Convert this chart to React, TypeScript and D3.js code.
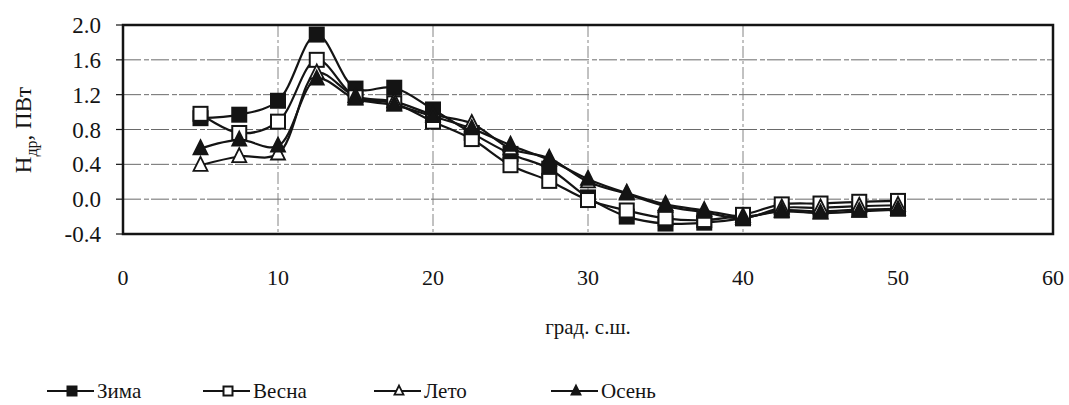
import * as d3 from 'd3';
import React, { useEffect, useRef } from 'react';

// широта, град. с.ш.
const lat = [5, 7.5, 10, 12.5, 15, 17.5, 20, 22.5, 25, 27.5, 30, 32.5, 35, 37.5, 40, 42.5, 45, 47.5, 50];

const zima = [0.93, 0.97, 1.13, 1.89, 1.27, 1.28, 1.03, 0.76, 0.52, 0.35, 0.02, -0.2, -0.28, -0.27, -0.22, -0.13, -0.14, -0.12, -0.11];
const vesna = [0.98, 0.76, 0.89, 1.6, 1.17, 1.1, 0.89, 0.69, 0.39, 0.21, -0.01, -0.13, -0.22, -0.24, -0.18, -0.06, -0.05, -0.03, -0.02];
const leto = [0.39, 0.49, 0.52, 1.45, 1.18, 1.12, 0.97, 0.87, 0.58, 0.47, 0.2, 0.06, -0.08, -0.15, -0.22, -0.1, -0.1, -0.08, -0.07];
const osen = [0.58, 0.68, 0.61, 1.38, 1.15, 1.08, 0.95, 0.81, 0.62, 0.45, 0.23, 0.07, -0.06, -0.13, -0.2, -0.14, -0.16, -0.14, -0.12];

const seriesNames = ['Зима', 'Весна', 'Лето', 'Осень'];
const seriesValues = [zima, vesna, leto, osen];
const markers = ['sqFill', 'sqOpen', 'triOpen', 'triFill'];

const xTicks = [0, 10, 20, 30, 40, 50, 60];
const yTicks = [-0.4, 0.0, 0.4, 0.8, 1.2, 1.6, 2.0];
const xGrid = [10, 20, 30, 40];
const yGrid = [0.0, 0.4, 0.8, 1.2, 1.6];

const ink = '#141414';
const font = 'Liberation Serif';

function drawMarker(g, type, cx, cy, s) {
    if (type.startsWith('sq')) {
        g.append('rect')
            .attr('x', cx - s / 2).attr('y', cy - s / 2)
            .attr('width', s).attr('height', s)
            .attr('fill', type === 'sqFill' ? ink : '#fff')
            .attr('stroke', ink).attr('stroke-width', 2);
    } else {
        g.append('path')
            .attr('d', `M${cx},${cy - s * 0.6}L${cx + s / 2},${cy + s * 0.4}L${cx - s / 2},${cy + s * 0.4}Z`)
            .attr('fill', type === 'triFill' ? ink : '#fff')
            .attr('stroke', ink).attr('stroke-width', 1.8);
    }
}

export default function App() {
    const ref = useRef(null);

    useEffect(() => {
        const width = 1069;
        const height = 405;
        const margin = { top: 25, right: 16, bottom: 171, left: 123 };

        const svg = d3.select(ref.current);
        svg.selectAll('*').remove();
        svg.attr('width', width).attr('height', height);

        const x = d3.scaleLinear().domain([0, 60]).range([margin.left, width - margin.right]);
        const y = d3.scaleLinear().domain([-0.4, 2.0]).range([height - margin.bottom, margin.top]);

        // grid
        svg.append('g').selectAll('line').data(yGrid).join('line')
            .attr('x1', x(0)).attr('x2', x(60))
            .attr('y1', d => y(d)).attr('y2', d => y(d))
            .attr('stroke', '#6a6a6a').attr('stroke-width', 1)
            .attr('stroke-dasharray', '18 3 5 2');
        svg.append('g').selectAll('line').data(xGrid).join('line')
            .attr('x1', d => x(d)).attr('x2', d => x(d))
            .attr('y1', y(2.0)).attr('y2', y(-0.4))
            .attr('stroke', '#777').attr('stroke-width', 0.9)
            .attr('stroke-dasharray', '12 3 3 3');

        // y axis ticks + labels
        const yAxis = svg.append('g');
        yTicks.forEach(t => {
            yAxis.append('line')
                .attr('x1', x(0) - 7).attr('x2', x(0))
                .attr('y1', y(t)).attr('y2', y(t))
                .attr('stroke', ink).attr('stroke-width', 1.2);
            yAxis.append('text')
                .attr('x', 101).attr('y', y(t))
                .attr('dy', '0.35em')
                .attr('text-anchor', 'end')
                .attr('font-family', font).attr('font-size', 23)
                .attr('fill', ink)
                .text(t.toFixed(1));
        });

        // x labels
        svg.append('g').selectAll('text').data(xTicks).join('text')
            .attr('x', d => x(d)).attr('y', 277)
            .attr('dy', '0.35em')
            .attr('text-anchor', 'middle')
            .attr('font-family', font).attr('font-size', 22)
            .attr('fill', ink)
            .text(d => d);

        // lines
        const line = d3.line()
            .x(d => x(d[0]))
            .y(d => y(d[1]))
            .curve(d3.curveCatmullRom.alpha(0.5));

        seriesValues.forEach(vals => {
            const pts = lat.map((v, j) => [v, vals[j]]);
            svg.append('path')
                .attr('d', line(pts))
                .attr('fill', 'none')
                .attr('stroke', ink).attr('stroke-width', 2.2);
        });
        seriesValues.forEach((vals, i) => {
            const g = svg.append('g');
            lat.forEach((v, j) => drawMarker(g, markers[i], x(v), y(vals[j]), 14));
        });

        // frame
        svg.append('rect')
            .attr('x', x(0)).attr('y', y(2.0))
            .attr('width', x(60) - x(0)).attr('height', y(-0.4) - y(2.0))
            .attr('fill', 'none').attr('stroke', ink).attr('stroke-width', 2.5);

        // axis titles
        const yt = svg.append('text')
            .attr('transform', 'translate(31,130) rotate(-90)')
            .attr('text-anchor', 'middle')
            .attr('font-family', font).attr('font-size', 23)
            .attr('fill', ink);
        yt.append('tspan').text('H');
        yt.append('tspan').attr('font-size', 16).attr('dy', 6).text('др');
        yt.append('tspan').attr('dy', -6).text(', ПВт');

        svg.append('text')
            .attr('x', x(30)).attr('y', 327)
            .attr('dy', '0.35em')
            .attr('text-anchor', 'middle')
            .attr('font-family', font).attr('font-size', 21)
            .attr('fill', ink)
            .text('град. с.ш.');

        // legend
        const legendX = [72, 228, 399, 576];
        seriesNames.forEach((name, i) => {
            const g = svg.append('g');
            const cx = legendX[i];
            const cy = 391;
            g.append('line')
                .attr('x1', cx - 25).attr('x2', cx + 22)
                .attr('y1', cy).attr('y2', cy)
                .attr('stroke', ink).attr('stroke-width', 2);
            drawMarker(g, markers[i], cx, cy, 9);
            g.append('text')
                .attr('x', cx + 25).attr('y', cy)
                .attr('dy', '0.35em')
                .attr('font-family', font).attr('font-size', 21)
                .attr('fill', ink)
                .text(name);
        });
    }, []);

    return <svg ref={ref} style={{ display: 'block', position: 'absolute', left: 0, top: 0 }}></svg>;
}
